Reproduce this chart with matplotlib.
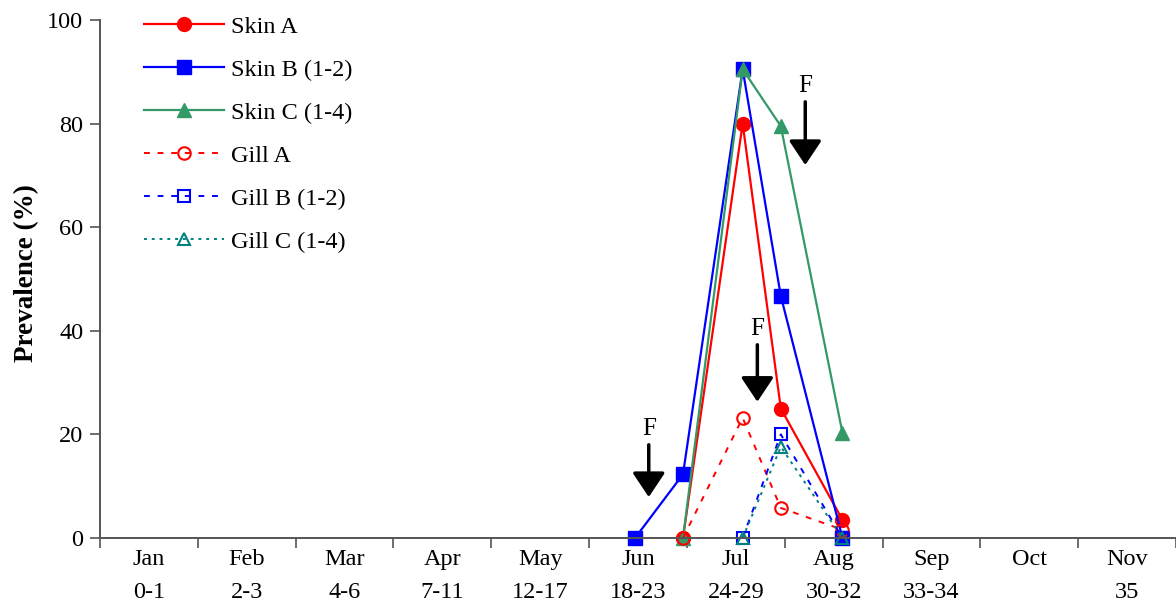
import matplotlib
matplotlib.use("Agg")
import matplotlib.pyplot as plt

plt.rcParams['font.family'] = ['Liberation Serif', 'DejaVu Serif']
plt.rcParams['font.size'] = 17.5

# month / week-range categories on the x axis
meses = ["Jan", "Feb", "Mar", "Apr", "May", "Jun", "Jul", "Aug", "Sep", "Oct", "Nov"]
semanas = ["0-1", "2-3", "4-6", "7-11", "12-17", "18-23", "24-29", "30-32", "33-34", "", "35"]

# sampling positions (in category units)
x_skin_b = [5.47, 5.96, 6.57, 6.96, 7.59]
x_amostras = [5.96, 6.57, 6.96, 7.59]
x_gill_bc = [6.57, 6.96, 7.59]

skin_a = [0, 80, 25, 3.5]
skin_b = [0, 12.3, 90.5, 46.7, 0]
skin_c = [0, 90.5, 79.5, 20.3]
gill_a = [0, 23.2, 5.8, 1.6]
gill_b = [0, 20.0, 0]
gill_c = [0, 17.6, 0]

# formalin treatments: (x, arrow tip, arrow top)
tratamentos_x = [5.61, 6.72, 7.21]
tratamentos_ponta = [7.9, 26.3, 72.0]
tratamentos_topo = [18.0, 37.3, 84.2]

fig = plt.figure(figsize=(11.76, 6.03), dpi=100)
ax = fig.add_axes([100 / 1176, 65 / 603, 1076 / 1176, 518 / 603])

vermelho = "#FF0000"
azul = "#0000FF"
verde = "#339966"
teal = "#008080"

ax.plot(x_amostras, skin_a, color=vermelho, lw=1.6, marker="o", ms=10, label="Skin A", clip_on=False)
ax.plot(x_skin_b, skin_b, color=azul, lw=1.6, marker="s", ms=10, label="Skin B (1-2)", clip_on=False)
ax.plot(x_amostras, skin_c, color=verde, lw=1.6, marker="^", ms=10, label="Skin C (1-4)", clip_on=False)
ax.plot(x_amostras, gill_a, color=vermelho, lw=1.4, ls=(0, (3, 4)), marker="o", ms=9,
        mfc="none", mew=1.5, label="Gill A", clip_on=False)
ax.plot(x_gill_bc, gill_b, color=azul, lw=1.4, ls=(0, (3, 4)), marker="s", ms=9,
        mfc="none", mew=1.5, label="Gill B (1-2)", clip_on=False)
ax.plot(x_gill_bc, gill_c, color=teal, lw=1.4, ls=(0, (1.5, 2.5)), marker="^", ms=9,
        mfc="none", mew=1.5, label="Gill C (1-4)", clip_on=False)

for x, ponta, topo in zip(tratamentos_x, tratamentos_ponta, tratamentos_topo):
    ax.annotate("", xy=(x, ponta), xytext=(x, topo),
                arrowprops=dict(arrowstyle="-|>,head_length=0.75,head_width=0.5",
                                mutation_scale=20, lw=2.5, color="black",
                                shrinkA=0, shrinkB=0))
    ax.text(x, topo + 1.0, "F", ha="center", va="bottom", fontsize=18)

ax.set_xlim(0, 10.98)
ax.set_ylim(0, 100)
ax.set_yticks(range(0, 101, 20))
ax.set_xticks(range(0, 12))
ax.set_xticklabels([])
ax.set_xticks([i + 0.5 for i in range(11)], minor=True)
ax.set_xticklabels([f"{m}\n{s}" for m, s in zip(meses, semanas)], minor=True)
ax.tick_params(axis="x", which="major", direction="out", length=7, width=1.2, color="#555555")
ax.tick_params(axis="x", which="minor", length=0, pad=8)
ax.tick_params(axis="y", direction="out", length=7, width=1.2, color="#555555", pad=5)

for lado in ["top", "right"]:
    ax.spines[lado].set_visible(False)
for lado in ["left", "bottom"]:
    ax.spines[lado].set_color("#555555")
    ax.spines[lado].set_linewidth(1.4)

ax.set_ylabel("Prevalence (%)", fontweight="bold", fontsize=19.5)
ax.yaxis.set_label_coords(-0.057, 0.512)

ax.legend(loc="upper left", bbox_to_anchor=(0.0205, 1.05), frameon=False,
          handlelength=3.3, labelspacing=0.86, handletextpad=0.3)

fig.canvas.draw()
for rotulo in ax.get_xticklabels(minor=True):
    rotulo.set_linespacing(1.75)

fig.savefig("out.png", dpi=100)
